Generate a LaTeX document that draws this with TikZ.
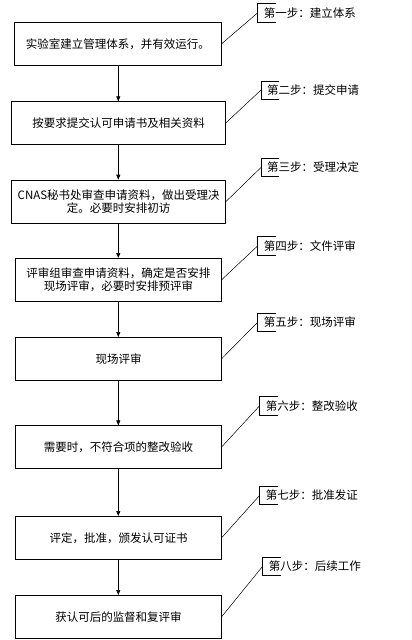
\documentclass[tikz,border=0pt]{standalone}
\usepackage{fontspec}
\newfontfamily\cjk{Noto Sans CJK SC}
\usetikzlibrary{arrows.meta,calc}
\tikzset{
  stepbox/.style={draw, line width=0.6pt, align=center, inner sep=0pt,
    font=\cjk\fontsize{11.5}{13.4}\selectfont},
  note/.style={anchor=west, inner xsep=6pt, inner ysep=0pt, minimum height=18pt,
    font=\cjk\fontsize{11.5}{13.4}\selectfont},
  flow/.style={line width=0.6pt, -{Triangle[width=4pt,length=5pt]}},
  leader/.style={line width=0.5pt}
}
\begin{document}
\begin{tikzpicture}[x=1pt, y=-1pt]
\useasboundingbox (0,0) rectangle (412,640);
% flow boxes
\node[stepbox, minimum width=207pt, minimum height=42.3pt] (b1) at (117.8, 43.8) {实验室建立管理体系，并有效运行。};
\node[stepbox, minimum width=214pt, minimum height=42.3pt] (b2) at (118.7, 122.8) {按要求提交认可申请书及相关资料};
\node[stepbox, minimum width=214pt, minimum height=43pt] (b3) at (118.7, 201.5) {CNAS秘书处审查申请资料，做出受理决\\定。必要时安排初访};
\node[stepbox, minimum width=205.6pt, minimum height=43pt] (b4) at (118.5, 279.8) {评审组审查申请资料，确定是否安排\\现场评审，必要时安排预评审};
\node[stepbox, minimum width=205.6pt, minimum height=43pt] (b5) at (118.5, 358.8) {现场评审};
\node[stepbox, minimum width=205.6pt, minimum height=42.6pt] (b6) at (118.5, 447) {需要时，不符合项的整改验收};
\node[stepbox, minimum width=205.6pt, minimum height=43pt] (b7) at (118.5, 537.8) {评定，批准，颁发认可证书};
\node[stepbox, minimum width=205.6pt, minimum height=43pt] (b8) at (118.5, 616.8) {获认可后的监督和复评审};
% callouts
\node[note] (s1) at (257.7, 12.8) {第一步：建立体系};
\node[note] (s2) at (261, 90) {第二步：提交申请};
\node[note] (s3) at (261, 167.5) {第三步：受理决定};
\node[note] (s4) at (257.7, 245.8) {第四步：文件评审};
\node[note] (s5) at (257.7, 322.2) {第五步：现场评审};
\node[note] (s6) at (259.7, 405.7) {第六步：整改验收};
\node[note] (s7) at (259.7, 495.3) {第七步：批准发证};
\node[note] (s8) at (262.7, 566.2) {第八步：后续工作};
\foreach \i in {1,...,8} {
  \draw[leader] ([xshift=18pt]s\i.north west) -- (s\i.north west) -- (s\i.south west) -- ([xshift=18pt]s\i.south west);
  \draw[leader] (b\i.east) -- (s\i.west);
}
% arrows
\foreach \i/\j in {1/2,2/3,3/4,4/5,5/6,6/7,7/8}
  \draw[flow] (b\i.south -| 118.3,0) -- (b\j.north -| 118.3,0);
\end{tikzpicture}
\end{document}
